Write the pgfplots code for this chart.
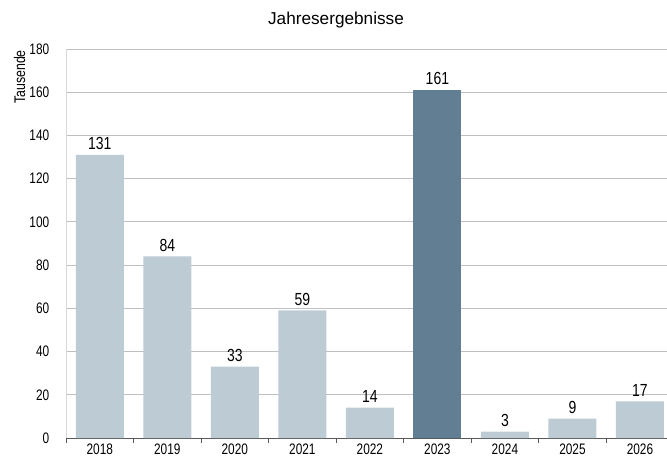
\documentclass[border=0pt]{standalone}
\usepackage{pgfplots}
\pgfplotsset{compat=1.18}
\usepackage{fontspec}
\setmainfont{Liberation Sans}
\newfontfamily\narrowfont[FakeStretch=0.78]{Liberation Sans}
\newfontfamily\labelfont[FakeStretch=0.8]{Liberation Sans}
\definecolor{barlight}{HTML}{BDCBD5}
\definecolor{bardark}{HTML}{617E93}
\definecolor{gridgray}{HTML}{BFBFBF}
\definecolor{axisdark}{HTML}{595959}
\begin{document}
\begin{tikzpicture}[x=1pt,y=1pt]
\useasboundingbox (0,0) rectangle (667,459);
\begin{axis}[
  at={(66pt,21pt)}, anchor=south west,
  scale only axis, width=601pt, height=389pt,
  xmin=-0.5, xmax=8.4, ymin=0, ymax=180,
  /pgf/number format/assume math mode=true,
  axis x line*=bottom, axis y line*=left,
  x axis line style={draw=axisdark, line width=1pt, -},
  y axis line style={draw=gridgray!60, line width=1pt, -},
  ytick={0,20,...,180},
  xtick={0,...,8},
  xticklabels={2018,2019,2020,2021,2022,2023,2024,2025,2026},
  minor xtick={-0.5,0.5,...,8.5},
  major x tick style={draw=none},
  minor x tick style={draw=axisdark, line width=0.8pt},
  minor tick length=5pt,
  tick align=outside,
  major y tick style={draw=none},
  ymajorgrids, grid style={draw=gridgray, line width=1pt},
  tick label style={font=\narrowfont\fontsize{15.2}{17}\selectfont, text=black},
  yticklabel style={xshift=-9pt},
  xticklabel style={inner sep=0pt, yshift=-1.5pt},
  nodes near coords,
  every node near coord/.append style={font=\labelfont\fontsize{17.5}{19}\selectfont, text=black, inner sep=1pt, yshift=4pt},
  clip=false,
]
\addplot[ybar, bar width=48pt, bar shift=0pt, fill=barlight, draw=none]
  coordinates {(0,131) (1,84) (2,33) (3,59) (4,14) (6,3) (7,9) (8,17)};
\addplot[ybar, bar width=48pt, bar shift=0pt, fill=bardark, draw=none]
  coordinates {(5,161)};
\end{axis}
\node[anchor=base, font=\fontsize{17.2}{19}\selectfont] at (336,434) {Jahresergebnisse};
\node[rotate=90, anchor=base east, font=\labelfont\fontsize{15.4}{17}\selectfont, inner sep=0pt] at (25,409) {Tausende};
\end{tikzpicture}
\end{document}
